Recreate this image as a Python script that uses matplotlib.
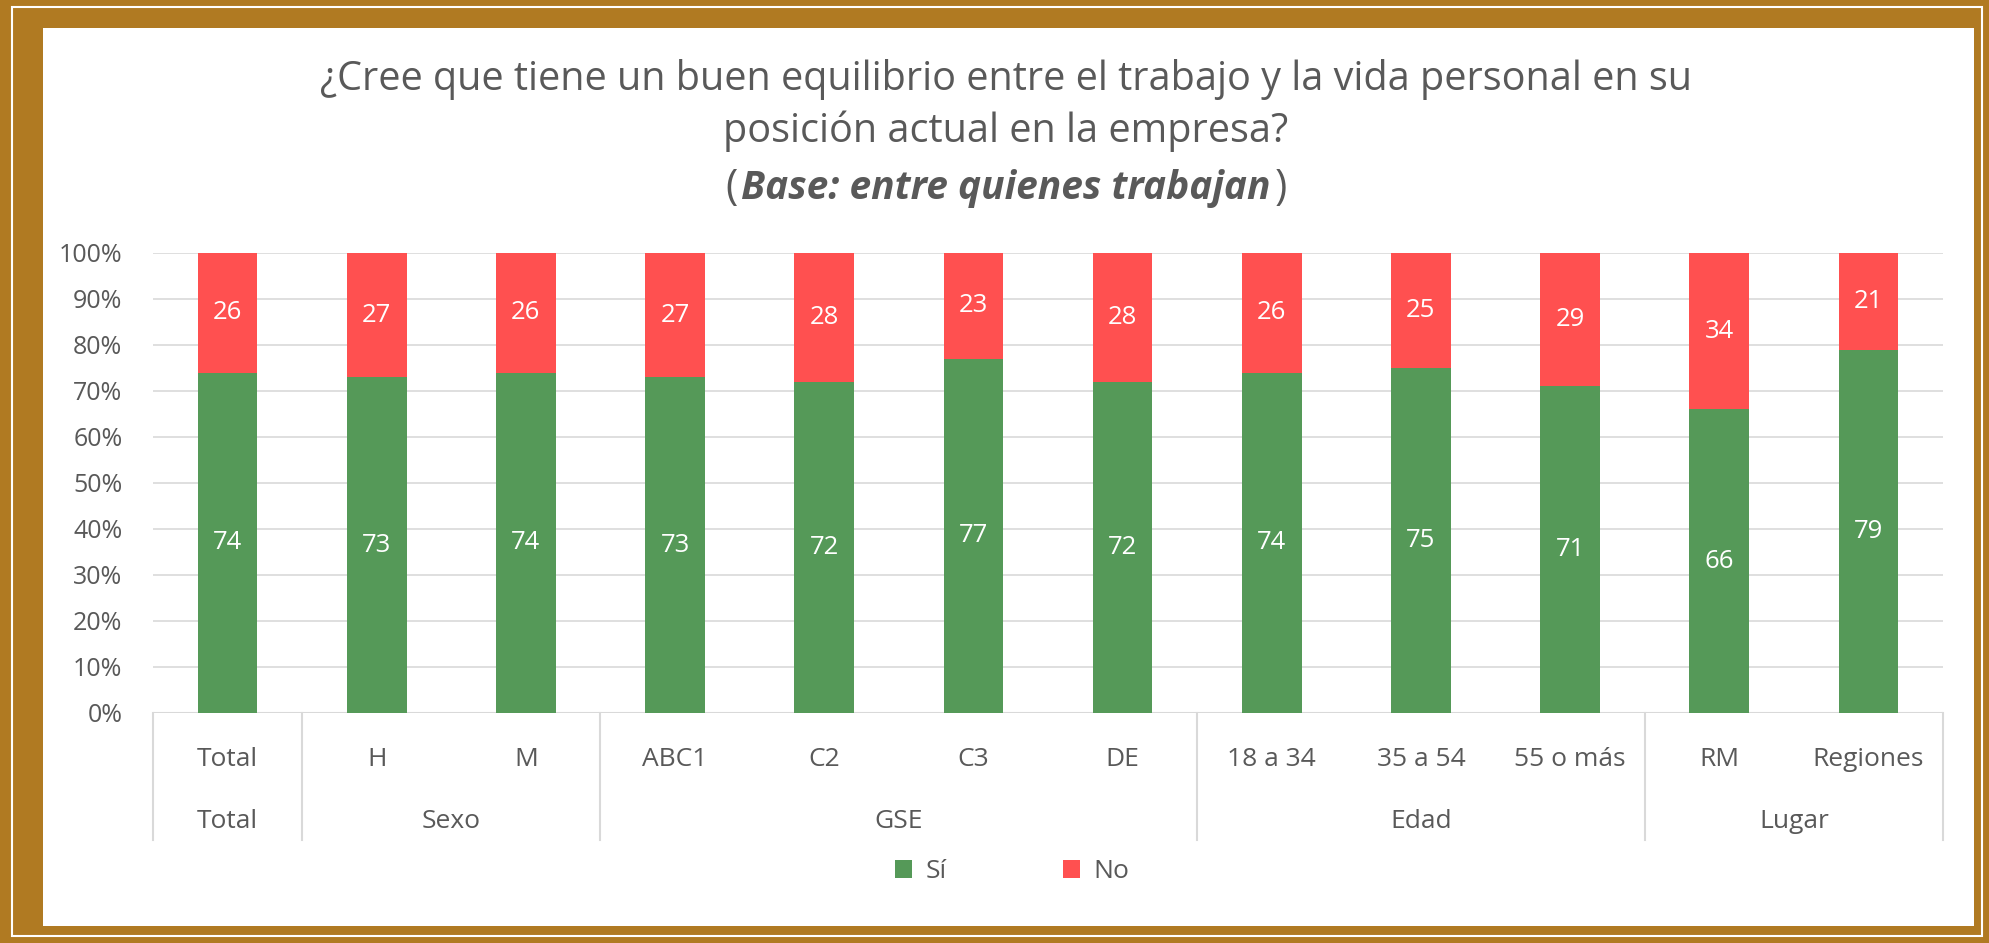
import matplotlib
matplotlib.use("Agg")
from matplotlib import pyplot as plt
from matplotlib.patches import Rectangle
import numpy as np

plt.rcParams['font.family'] = ['Open Sans', 'DejaVu Sans']

categories = ['Total', 'H', 'M', 'ABC1', 'C2', 'C3', 'DE',
              '18 a 34', '35 a 54', '55 o más', 'RM', 'Regiones']
si = [74, 73, 74, 73, 72, 77, 72, 74, 75, 71, 66, 79]
no = [26, 27, 26, 27, 28, 23, 28, 26, 25, 29, 34, 21]
groups = ['Total', 'Sexo', 'GSE', 'Edad', 'Lugar']
group_sizes = [1, 2, 4, 3, 2]

GREEN = '#559958'
RED = '#FF5050'
GRAY = '#595959'
GRID = '#D9D9D9'
GOLD = '#B07A22'

fig = plt.figure(figsize=(19.9, 9.43), dpi=100)
fig.patch.set_facecolor(GOLD)
W, H = 1990, 943

def fx(px):
    return px / W

def fy(py):
    return 1 - py / H

# white frame line and white panel (behind the axes)
fig.add_artist(Rectangle((fx(12), fy(936)), fx(1982) - fx(12), fy(7) - fy(936),
                         transform=fig.transFigure, fill=False,
                         edgecolor='white', linewidth=1.5, zorder=-10))
fig.add_artist(Rectangle((fx(43), fy(926)), fx(1974) - fx(43), fy(28) - fy(926),
                         transform=fig.transFigure, facecolor='white',
                         edgecolor='none', zorder=-10))

ax = fig.add_axes([fx(153), fy(713), fx(1943) - fx(153), fy(253) - fy(713)])
ax.set_facecolor('none')
x = np.arange(len(categories))
bw = 0.40
ax.bar(x, si, bw, color=GREEN, label='Sí', zorder=3)
ax.bar(x, no, bw, bottom=si, color=RED, label='No', zorder=3)

for i in range(len(categories)):
    ax.text(x[i], si[i] / 2, str(si[i]), ha='center', va='center',
            color='white', fontsize=18.5, zorder=4)
    ax.text(x[i], si[i] + no[i] / 2, str(no[i]), ha='center', va='center',
            color='white', fontsize=18.5, zorder=4)

ax.set_xlim(-0.5, len(categories) - 0.5)
ax.set_ylim(0, 100)
ax.set_yticks(range(0, 101, 10))
ax.set_yticklabels([f'{v}%' for v in range(0, 101, 10)], color=GRAY, fontsize=18)
ax.tick_params(axis='y', length=0, pad=22)
ax.set_xticks([])
ax.grid(axis='y', color=GRID, linewidth=1.2, zorder=0)
for s in ax.spines.values():
    s.set_visible(False)
ax.axhline(0, color=GRID, linewidth=1.5, zorder=2)

# category table below axis
box_bottom = -0.276
bounds = np.concatenate([[0], np.cumsum(group_sizes)]) - 0.5
for b in bounds:
    ax.plot([b, b], [0, box_bottom], color=GRID, linewidth=1.5,
            transform=ax.get_xaxis_transform(), clip_on=False)
for i, c in enumerate(categories):
    ax.text(x[i], -0.10, c, ha='center', va='center', color=GRAY, fontsize=19,
            transform=ax.get_xaxis_transform())
for g, a, b in zip(groups, bounds[:-1], bounds[1:]):
    ax.text((a + b) / 2, -0.235, g, ha='center', va='center', color=GRAY,
            fontsize=19, transform=ax.get_xaxis_transform())

# title
cx = fx(1006)
fig.text(cx, fy(79), '¿Cree que tiene un buen equilibrio entre el trabajo y la vida personal en su',
         ha='center', va='center', color=GRAY, fontsize=28.5)
fig.text(cx, fy(131), 'posición actual en la empresa?',
         ha='center', va='center', color=GRAY, fontsize=28.5)
mid = fig.text(cx, fy(188), 'Base: entre quienes trabajan', ha='center', va='center',
               color=GRAY, fontsize=28, fontweight='bold', fontstyle='italic')
r = fig.canvas.get_renderer()
bb = mid.get_window_extent(renderer=r)
fig.text(bb.x0 / W - 0.002, fy(188), '(', ha='right', va='center', color=GRAY, fontsize=30)
fig.text(bb.x1 / W + 0.002, fy(188), ')', ha='left', va='center', color=GRAY, fontsize=30)

fig.legend(loc='center', bbox_to_anchor=(fx(1012), fy(872)), ncol=2, frameon=False,
           fontsize=19, handlelength=0.65, handleheight=0.65, columnspacing=4.4,
           handletextpad=0.5, labelcolor=GRAY)

fig.savefig('out.png', dpi=100, facecolor=fig.get_facecolor())
